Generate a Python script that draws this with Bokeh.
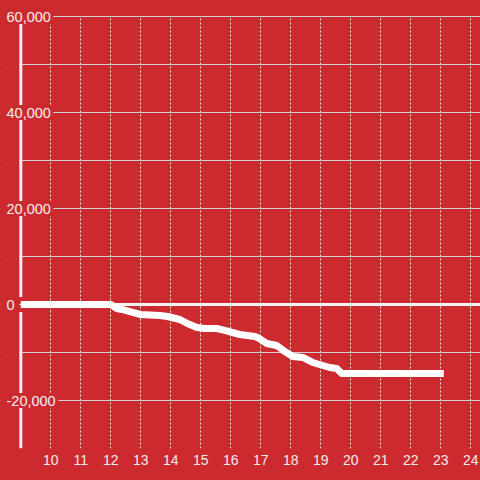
from bokeh.plotting import figure
from bokeh.models import FixedTicker, Range1d
from bokeh.core.properties import value
from bokeh.embed import file_html
from bokeh.resources import INLINE

# data (hours, cumulative value)
hours = [9.0, 12.0, 12.2, 12.37, 12.97, 13.63, 13.9, 14.3, 14.63, 14.87, 15.13, 15.53,
         15.8, 16.3, 16.8, 16.9, 17.2, 17.53, 17.8, 18.07, 18.4, 18.73, 19.3, 19.53,
         19.7, 23.1]
values = [0, 0, -830, -1040, -2080, -2290, -2500, -3125, -4170, -4800, -5000, -5000,
          -5400, -6250, -6670, -6900, -8125, -8540, -9800, -10830, -11040, -12080, -13125,
          -13330, -14375, -14375]

x_ticks = list(range(10, 25))
y_label_ticks = [-20000, 0, 20000, 40000, 60000]
y_label_text = ["-20,000", "0", "20,000", "40,000", "60,000"]
y_grid_ticks = [-30000, -20000, -10000, 0, 10000, 20000, 30000, 40000, 50000, 60000]

BG = "#CC2A2F"
FG = "#eeeeee"
FONT = "Liberation Sans"
YFS = 14.5

x_axis_at = 9
y_bottom = -30000
y_top = 60000
px_x = 1 / 30.0          # data per pixel, x
px_y = 20000 / 96.0      # data per pixel, y
x_start = x_axis_at - 20.3 * px_x
x_end = x_start + 480 * px_x
y_end = y_top + 16 * px_y
half_box = 7.5 * px_y

p = figure(width=480, height=480, output_backend="svg", toolbar_location=None,
           x_range=Range1d(x_start, x_end), y_range=Range1d(y_bottom, y_end),
           min_border_left=0, min_border_right=0, min_border_top=0, min_border_bottom=32)
p.background_fill_color = BG
p.border_fill_color = BG
p.outline_line_color = None

p.yaxis.visible = False
p.xaxis.ticker = FixedTicker(ticks=x_ticks)
p.xaxis.axis_line_color = None
p.xaxis.major_tick_line_color = None
p.xaxis.minor_tick_line_color = None
p.xaxis.major_tick_out = 0
p.xaxis.major_label_standoff = 6
p.xaxis.major_label_text_color = FG
p.xaxis.major_label_text_font = FONT
p.xaxis.major_label_text_font_size = "14px"

p.xgrid.ticker = FixedTicker(ticks=x_ticks)
p.xgrid.grid_line_color = "#e8e8e8"
p.xgrid.grid_line_dash = "2 2"
p.xgrid.grid_line_width = 1

p.ygrid.ticker = FixedTicker(ticks=y_grid_ticks)
p.ygrid.grid_line_color = "#d0d0d0"
p.ygrid.grid_line_width = 1

# cover grid left of the axis and above the top gridline (glyphs over the underlay grid)
p.quad(left=[x_start, x_start], right=[x_axis_at - 1.6 * px_x, x_end],
       bottom=[y_bottom, y_top + 0.6 * px_y], top=[y_end, y_end],
       fill_color=BG, line_color=None)

# zero line
p.ray(x=[x_axis_at], y=[0], length=0, angle=0, line_color="#f4f4f4", line_width=3)

# y-axis line, interrupted behind each label
seg_y0 = [y_bottom] + [v + half_box for v in y_label_ticks[:-1]]
seg_y1 = [v - half_box for v in y_label_ticks]
p.segment(x0=[x_axis_at] * len(seg_y0), y0=seg_y0, x1=[x_axis_at] * len(seg_y1), y1=seg_y1,
          line_color="#f0f0f0", line_width=3, line_cap="butt")

p.line(hours, values, line_color="white", line_width=7, line_join="round", line_cap="butt")


def text_width(t):
    w = 0.0
    for ch in t:
        w += 0.278 if ch == "," else (0.333 if ch == "-" else 0.556)
    return w * YFS


# red backing boxes behind the y labels (hide grid), then the labels
p.quad(left=[x_start + 3 * px_x] * len(y_label_ticks),
       right=[x_start + (6 + text_width(t) + 2.5) * px_x for t in y_label_text],
       bottom=[v - half_box for v in y_label_ticks],
       top=[v + half_box for v in y_label_ticks],
       fill_color=BG, line_color=None)
p.text(x=[x_start + 6 * px_x] * len(y_label_ticks), y=y_label_ticks, text=y_label_text,
       text_color=FG, text_font=value(FONT), text_font_size=value(f"{YFS}px"),
       text_align="left", text_baseline="middle")

html = file_html(p, INLINE)
html = html.replace("<head>", "<head><style>html,body{margin:0;padding:0;background:#CC2A2F;overflow:hidden;}</style>", 1)
open("out.html", "w").write(html)
